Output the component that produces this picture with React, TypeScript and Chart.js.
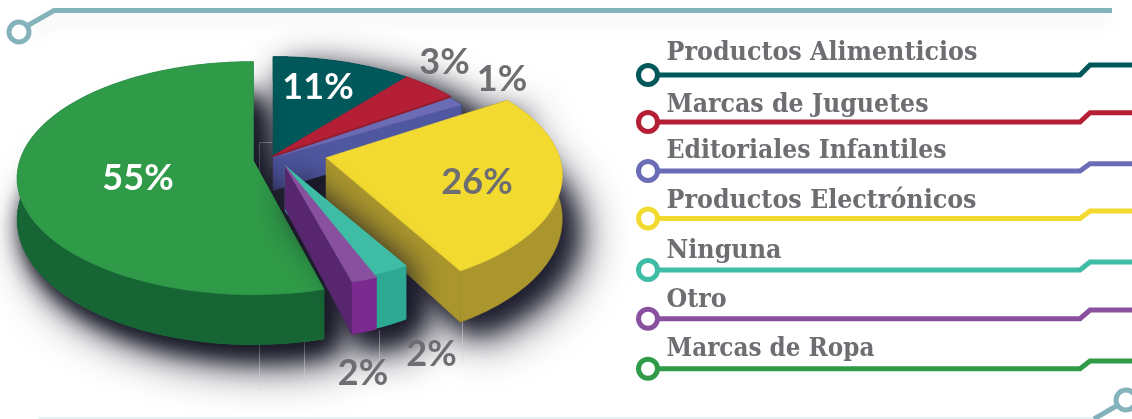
import React, { useEffect, useRef } from "react";
import { Chart, registerables } from "chart.js";

Chart.register(...registerables);

const categories = [
  "Productos Alimenticios",
  "Marcas de Juguetes",
  "Editoriales Infantiles",
  "Productos Electrónicos",
  "Ninguna",
  "Otro",
  "Marcas de Ropa",
];
const shares = [11, 3, 1, 26, 2, 2, 55];

const topColors = ["#00585a", "#b51f36", "#6a6db5", "#f3da30", "#3fbca5", "#89509f", "#2f9a48"];
const rimColors = ["#004446", "#8f1a2c", "#4f57a0", "#ab962d", "#2da892", "#7b2b90", "#176535"];
const sideColors = ["#004446", "#8f1a2c", "#4f57a0", "#ab962d", "#2da892", "#57266f", "#176535"];
const legendColors = ["#00585a", "#b51f36", "#6a6db5", "#f3da30", "#3fbca5", "#89509f", "#2f9a48"];

// Style of the 3D look: per-slice explode shift, reach, wall height and perspective skew (degrees)
const shiftX = [0, 0, 0, 53, 12, 12, -19.6];
const shiftY = [0, 0, 2, 2, 10, 10, 5];
const reach = [1, 1, 1, 1, 0.9, 0.92, 1];
const wallScale = [0.8, 0.8, 0.8, 1.03, 1.1, 1.05, 0.98];
const skewStart = [0, 0, 5, 3, 1.8, 3.4, 3];
const skewEnd = [0, 5, 6, 2.4, 3.4, 2.3, 0];
const paintOrder = [0, 1, 2, 3, 6, 4, 5];
const castBlur = [0, 0, 0, 0, 30, 0, 22];

const labelX = [318, 444.5, 502, 477, 431.5, 363, 138];
const labelY = [87, 62, 79, 182, 354, 373, 178];
const labelColor = ["#ffffff", "#6d6e71", "#6d6e71", "#6d6e71", "#6d6e71", "#6d6e71", "#ffffff"];

const legendTextBase = [60, 111.7, 158, 207.7, 257.7, 306.7, 356];
const legendLineY = [75, 122, 171, 218.5, 270, 318.7, 368.7];
const legendLineUp = [65, 112.7, 163.7, 211, 262, 310, 361];
const legendWidth = [313, 262, 280, 310, 116, 62, 208];

const TILT = 0.15;
const STEPS = 60;
const DEG = Math.PI / 180;

type Pt = [number, number];

function polyPath(p: Path2D | CanvasRenderingContext2D, pts: Pt[]) {
  let area = 0;
  for (let i = 0; i < pts.length; i++) {
    const a = pts[i];
    const b = pts[(i + 1) % pts.length];
    area += a[0] * b[1] - b[0] * a[1];
  }
  const list = area < 0 ? [...pts].reverse() : pts;
  list.forEach((q, i) => (i ? p.lineTo(q[0], q[1]) : p.moveTo(q[0], q[1])));
  p.closePath();
}

const pie3d = {
  id: "pie3d",
  beforeDatasetsDraw(chart: any) {
    const ctx: CanvasRenderingContext2D = chart.ctx;
    const arcs = chart.getDatasetMeta(0).data;

    const build = (i: number) => {
      const arc = arcs[i];
      const R = arc.outerRadius;
      const A = 1.139 * R;
      const B = 2.336 * R;
      const ox = arc.x + shiftX[i];
      const oy = arc.y + shiftY[i];
      const start = arc.startAngle + skewStart[i] * DEG;
      const end = arc.endAngle + skewEnd[i] * DEG;
      const top = (a: number, r: number): Pt => {
        const u = r * Math.cos(a);
        const v = r * Math.sin(a);
        const w = 1 / (1 - TILT * v);
        return [ox + B * u * w, oy + A * v * w];
      };
      const low = (a: number, r: number): Pt => {
        const t = top(a, r);
        const v = r * Math.sin(a);
        return [t[0], t[1] + (41 + 10 * v) * wallScale[i]];
      };
      const rr = reach[i];
      const topArc: Pt[] = [];
      const lowArc: Pt[] = [];
      for (let s = 0; s <= STEPS; s++) {
        const a = start + ((end - start) * s) / STEPS;
        topArc.push(top(a, rr));
        lowArc.push(low(a, rr));
      }
      const apex = top(0, 0);
      const apexLow = low(0, 0);
      const surface: Pt[] = [apex, ...topArc];
      const floor: Pt[] = [apexLow, ...lowArc];
      const rim: Pt[] = [...topArc, ...[...lowArc].reverse()];
      const endWall: Pt[] = [apex, topArc[STEPS], lowArc[STEPS], apexLow];
      const startWall: Pt[] = [apex, topArc[0], lowArc[0], apexLow];
      return { arc, start, end, surface, floor, rim, endWall, startWall };
    };

    const solid = (g: ReturnType<typeof build>) => {
      const p = new Path2D();
      polyPath(p, g.surface);
      polyPath(p, g.floor);
      polyPath(p, g.rim);
      polyPath(p, g.endWall);
      polyPath(p, g.startWall);
      return p;
    };

    // ground shadow, laid twice for its dense core
    ctx.save();
    ctx.shadowColor = "rgba(30,30,46,1)";
    ctx.fillStyle = "#26263a";
    [
      [48, 17, 17],
      [26, 12, 12],
    ].forEach(([blur, ox, oy]) => {
      ctx.shadowBlur = blur;
      ctx.shadowOffsetX = ox;
      ctx.shadowOffsetY = oy;
      paintOrder.forEach((i) => {
        ctx.fill(solid(build(i)), "nonzero");
      });
    });
    ctx.restore();

    // faint seams showing through the shadow
    ctx.save();
    ctx.strokeStyle = "rgba(205,205,212,0.55)";
    ctx.lineWidth = 1;
    ctx.beginPath();
    ctx.moveTo(272, 142.5);
    ctx.lineTo(259.5, 142.5);
    ctx.lineTo(259.5, 390);
    ctx.moveTo(304.5, 335);
    ctx.lineTo(304.5, 385);
    ctx.moveTo(379.5, 330);
    ctx.lineTo(379.5, 385);
    ctx.moveTo(462.5, 322);
    ctx.lineTo(462.5, 362);
    ctx.stroke();
    ctx.restore();

    paintOrder.forEach((i) => {
      const g = build(i);
      if (castBlur[i]) {
        ctx.save();
        ctx.shadowColor = "rgba(22,22,36,0.95)";
        ctx.shadowBlur = castBlur[i];
        ctx.shadowOffsetX = 6;
        ctx.shadowOffsetY = 4;
        ctx.fillStyle = topColors[i];
        ctx.fill(solid(g), "nonzero");
        ctx.restore();
      }
      const fillPoly = (pts: Pt[], color: string) => {
        ctx.beginPath();
        polyPath(ctx, pts);
        ctx.fillStyle = color;
        ctx.strokeStyle = color;
        ctx.lineWidth = 0.5;
        ctx.fill();
        ctx.stroke();
      };
      if (Math.cos(g.end) > 0.001) fillPoly(g.endWall, sideColors[i]);
      if (Math.cos(g.start) < -0.001) fillPoly(g.startWall, sideColors[i]);
      fillPoly(g.rim, rimColors[i]);
      fillPoly(g.surface, topColors[i]);
    });

    // share labels
    ctx.save();
    ctx.font = "bold 36px Lato";
    ctx.textAlign = "center";
    ctx.textBaseline = "middle";
    shares.forEach((v, i) => {
      ctx.fillStyle = labelColor[i];
      ctx.fillText(`${v}%`, labelX[i], labelY[i]);
    });
    ctx.restore();

    // legend rows
    ctx.save();
    categories.forEach((name, i) => {
      const y = legendLineY[i];
      ctx.strokeStyle = legendColors[i];
      ctx.lineWidth = 5;
      ctx.lineJoin = "miter";
      ctx.beginPath();
      ctx.moveTo(648, y);
      ctx.lineTo(1080, y);
      ctx.lineTo(1090, legendLineUp[i]);
      ctx.lineTo(1132, legendLineUp[i]);
      ctx.stroke();
      ctx.beginPath();
      ctx.arc(648, y, 9.5, 0, Math.PI * 2);
      ctx.fillStyle = "#ffffff";
      ctx.fill();
      ctx.stroke();
      ctx.fillStyle = "#6d6e71";
      ctx.font = 'bold 26.5px "DejaVu Serif Condensed", "DejaVu Serif"';
      ctx.textAlign = "left";
      ctx.textBaseline = "alphabetic";
      ctx.fillText(name, 666.5, legendTextBase[i], legendWidth[i]);
    });
    ctx.restore();

    return false;
  },
  beforeDraw(chart: any) {
    const ctx: CanvasRenderingContext2D = chart.ctx;
    ctx.save();
    // top rule with its soft shade
    ctx.strokeStyle = "#84b3bb";
    ctx.lineWidth = 5;
    ctx.save();
    ctx.shadowColor = "rgba(0,0,0,0.10)";
    ctx.shadowBlur = 18;
    ctx.shadowOffsetY = 8;
    ctx.beginPath();
    ctx.moveTo(27, 26);
    ctx.lineTo(54, 10.5);
    ctx.lineTo(1112, 10.5);
    ctx.stroke();
    ctx.restore();
    ctx.beginPath();
    ctx.arc(19, 32, 10, 0, Math.PI * 2);
    ctx.fillStyle = "#ffffff";
    ctx.fill();
    ctx.stroke();
    // bottom rule
    ctx.strokeStyle = "#e8f1f3";
    ctx.lineWidth = 2;
    ctx.beginPath();
    ctx.moveTo(38, 418);
    ctx.lineTo(1094, 418);
    ctx.stroke();
    ctx.strokeStyle = "#84b3bb";
    ctx.lineWidth = 5;
    ctx.beginPath();
    ctx.moveTo(1094, 419);
    ctx.lineTo(1118, 405);
    ctx.stroke();
    ctx.beginPath();
    ctx.arc(1126, 400, 10, 0, Math.PI * 2);
    ctx.fillStyle = "#ffffff";
    ctx.fill();
    ctx.stroke();
    ctx.restore();
  },
};

export default function App() {
  const ref = useRef<HTMLCanvasElement | null>(null);
  useEffect(() => {
    if (!ref.current) return;
    const chart = new Chart(ref.current, {
      type: "pie",
      data: {
        labels: categories,
        datasets: [{ data: shares, backgroundColor: topColors, borderWidth: 0 }],
      },
      options: {
        responsive: false,
        animation: false,
        rotation: 0,
        layout: { padding: { left: 173, right: 759, top: 55.7, bottom: 163.3 } },
        plugins: { legend: { display: false }, tooltip: { enabled: false } },
      },
      plugins: [pie3d],
    } as any);
    return () => chart.destroy();
  }, []);
  return (
    <div style={{ position: "fixed", left: 0, top: 0, width: 1132, height: 419, background: "#fff" }}>
      <canvas ref={ref} width={1132} height={419} style={{ display: "block" }} />
    </div>
  );
}
